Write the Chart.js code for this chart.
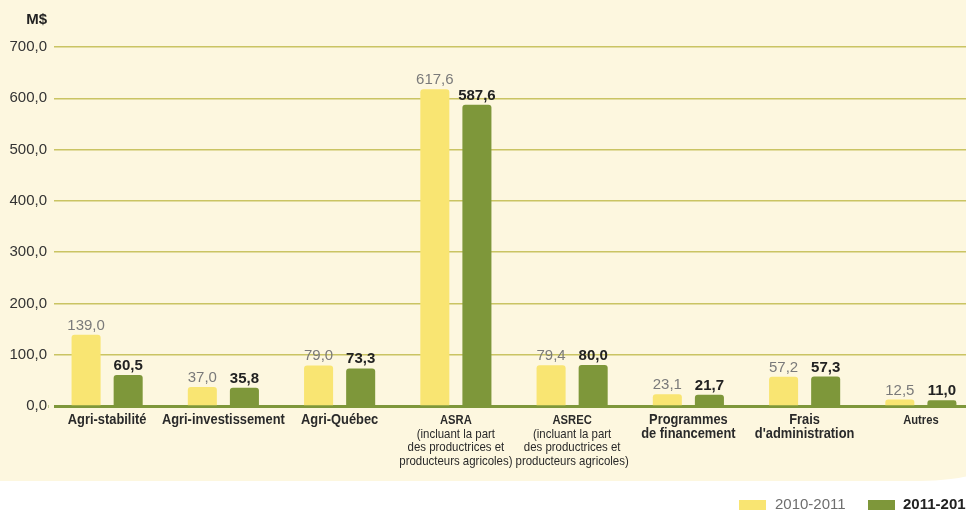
<!DOCTYPE html>
<html>
<head>
<meta charset="utf-8">
<script src="https://cdn.jsdelivr.net/npm/chart.js@4.4.0/dist/chart.umd.min.js"></script>
<style>
  html, body { margin: 0; padding: 0; background: #ffffff; overflow: hidden; width: 966px; height: 512px; }
  #wrap { position: relative; width: 985px; height: 512px; }
  #bg { position: absolute; left: 0; top: 0; width: 1000px; height: 481px; background: #fdf7df; border-bottom-right-radius: 80px 25px; }
  #c { position: absolute; left: 0; top: 0; }
</style>
</head>
<body>
<div id="wrap">
  <div id="bg"></div>
  <canvas id="c" width="985" height="512"></canvas>
</div>
<script>
// ---- Data ----
const titleLines = [
  ["Agri-stabilité"],
  ["Agri-investissement"],
  ["Agri-Québec"],
  ["ASRA"],
  ["ASREC"],
  ["Programmes", "de financement"],
  ["Frais", "d'administration"],
  ["Autres"]
];
const subLines = [
  [], [], [],
  ["(incluant la part", "des productrices et", "producteurs agricoles)"],
  ["(incluant la part", "des productrices et", "producteurs agricoles)"],
  [], [], []
];
const seriesNames = ["2010-2011", "2011-2012"];
const values2010 = [139.0, 37.0, 79.0, 617.6, 79.4, 23.1, 57.2, 12.5];
const values2011 = [60.5, 35.8, 73.3, 587.6, 80.0, 21.7, 57.3, 11.0];
const yTicks = [0, 100, 200, 300, 400, 500, 600, 700];
const unitLabel = "M$";

// ---- Styles ----
const YELLOW = "#f9e572";
const GREEN = "#7e973a";
const CREAM = "#fdf7df";
const SANS = "'Liberation Sans', Arial, Helvetica, sans-serif";
const smallTitle = [false, false, false, true, true, false, false, true];

const fmt = v => v.toFixed(1).replace(".", ",");

function condensedText(ctx, text, x, y, factor) {
  ctx.save();
  ctx.translate(x, y);
  ctx.scale(factor, 1);
  ctx.fillText(text, 0, 0);
  ctx.restore();
}

const labelPlugin = {
  id: "customLabels",
  beforeDatasetsDraw(chart) {
    const ctx = chart.ctx, a = chart.chartArea;
    ctx.save();
    ctx.fillStyle = CREAM;
    ctx.fillRect(a.left - 0.5, a.top - 4, 54 - a.left + 0.5, a.bottom - a.top + 8);
    ctx.restore();
  },
  afterDatasetsDraw(chart) {
    const ctx = chart.ctx;
    ctx.save();
    ctx.textAlign = "center";
    ctx.textBaseline = "alphabetic";
    chart.data.datasets.forEach((ds, di) => {
      const meta = chart.getDatasetMeta(di);
      ctx.font = (di === 0 ? "normal " : "bold ") + "15px " + SANS;
      ctx.fillStyle = di === 0 ? "#7a7a7a" : "#222222";
      meta.data.forEach((el, i) => {
        ctx.fillText(fmt(ds.data[i]), el.x, el.y - 5);
      });
    });
    ctx.restore();
  },
  afterDraw(chart) {
    const ctx = chart.ctx;
    const xs = chart.scales.x;
    const ys = chart.scales.y;
    ctx.save();
    ctx.textAlign = "center";
    ctx.textBaseline = "alphabetic";
    ctx.fillStyle = "#2a2a2a";
    titleLines.forEach((lines, i) => {
      const x = xs.getPixelForValue(i);
      let y = ys.bottom + 18;
      ctx.font = "bold " + (smallTitle[i] ? "13.5px " : "15.5px ") + SANS;
      lines.forEach(t => { condensedText(ctx, t, x, y, 0.83); y += 13.8; });
      ctx.font = "normal 13px " + SANS;
      y = ys.bottom + 31.5;
      subLines[i].forEach(t => { condensedText(ctx, t, x, y, 0.88); y += 13.5; });
    });
    // unit label
    ctx.textAlign = "right";
    ctx.font = "bold 15px " + SANS;
    ctx.fillStyle = "#222222";
    ctx.fillText(unitLabel, 47, 24);
    // legend
    ctx.textAlign = "left";
    const ds = chart.data.datasets;
    ctx.fillStyle = ds[0].backgroundColor;
    ctx.fillRect(739, 500, 27, 10);
    ctx.font = "normal 15px " + SANS;
    ctx.fillStyle = "#6e6e6e";
    ctx.fillText(ds[0].label, 775, 509);
    ctx.fillStyle = ds[1].backgroundColor;
    ctx.fillRect(868, 500, 27, 10);
    ctx.font = "bold 15px " + SANS;
    ctx.fillStyle = "#222222";
    ctx.fillText(ds[1].label, 903, 509);
    ctx.restore();
  }
};

new Chart(document.getElementById("c"), {
  type: "bar",
  data: {
    labels: titleLines.map(l => l.join(" ")),
    datasets: [
      { label: seriesNames[0], data: values2010, backgroundColor: YELLOW,
        borderRadius: { topLeft: 3, topRight: 3 }, borderSkipped: "bottom" },
      { label: seriesNames[1], data: values2011, backgroundColor: GREEN,
        borderRadius: { topLeft: 3, topRight: 3 }, borderSkipped: "bottom" }
    ]
  },
  options: {
    responsive: false,
    animation: false,
    devicePixelRatio: 1,
    categoryPercentage: 0.724,
    barPercentage: 0.69,
    layout: { padding: { top: 47, right: 6, left: 0, bottom: 0 } },
    plugins: { legend: { display: false }, tooltip: { enabled: false } },
    scales: {
      x: {
        offset: true,
        grid: { display: false },
        ticks: { display: false },
        border: { display: true, color: GREEN, width: 3 },
        afterFit(scale) { scale.height = 106; }
      },
      y: {
        min: 0, max: 700,
        afterBuildTicks(scale) { scale.ticks = yTicks.map(v => ({ value: v })); },
        ticks: {
          callback: v => fmt(v),
          color: "#333333",
          font: { family: SANS, size: 15 },
          padding: 2
        },
        grid: { color: "#cac463", lineWidth: 1.4, drawTicks: false },
        border: { display: false },
        afterFit(scale) { scale.width = 49; }
      }
    }
  },
  plugins: [labelPlugin]
});
</script>
</body>
</html>
